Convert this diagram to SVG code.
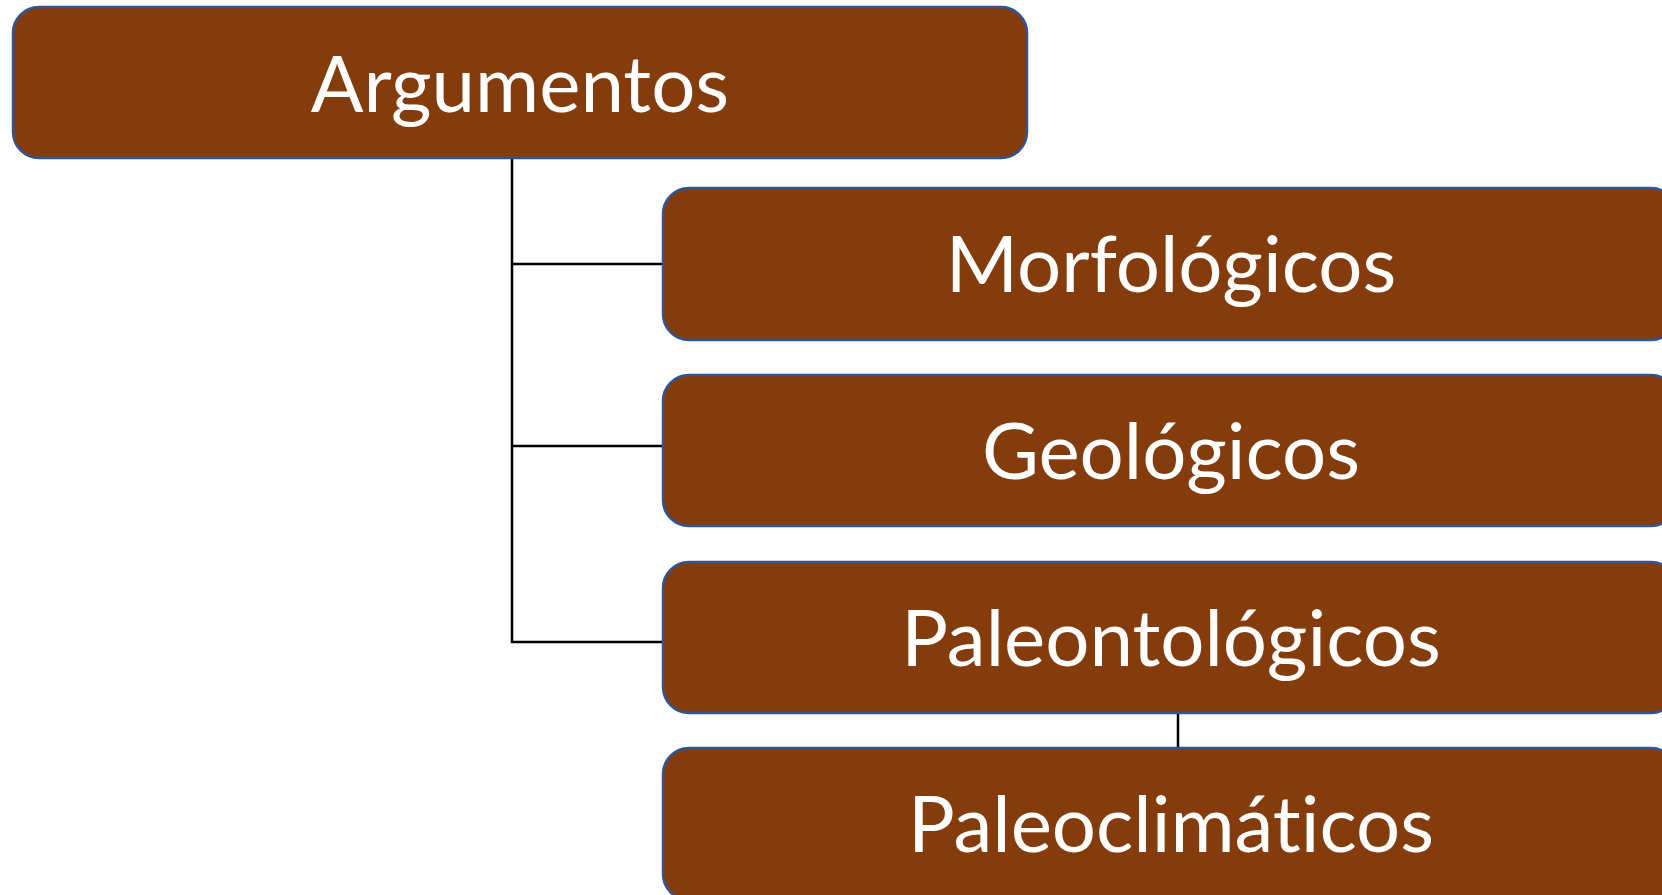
<svg xmlns="http://www.w3.org/2000/svg" width="1662" height="895" viewBox="0 0 1662 895">
<style>
.box{fill:#843C0C;stroke:#2F5597;stroke-width:2.5}
.lbl{fill:#FFFFFF;font-family:Lato,"Open Sans",sans-serif;font-size:78px;text-anchor:middle;font-variant-ligatures:none;font-feature-settings:"liga" 0,"dlig" 0}
.conn{stroke:#000000;stroke-width:2.5;fill:none}
</style>
<rect width="1662" height="895" fill="#FFFFFF"/>
<g id="connectors">
<polyline class="conn" points="512,158 512,642 663,642"/>
<line class="conn" x1="512" y1="264" x2="663" y2="264"/>
<line class="conn" x1="512" y1="446" x2="663" y2="446"/>
<line class="conn" x1="1178" y1="713" x2="1178" y2="748"/>
</g>
<g id="argumentos">
<rect class="box" x="13" y="7" width="1014" height="151" rx="26"/>
<text class="lbl" x="520" y="112">Argumentos</text>
</g>
<g id="morfologicos">
<rect class="box" x="663" y="188" width="1014" height="152" rx="26"/>
<text class="lbl" x="1171" y="292">Morfológicos</text>
</g>
<g id="geologicos">
<rect class="box" x="663" y="375" width="1014" height="151" rx="26"/>
<text class="lbl" x="1171" y="479">Geológicos</text>
</g>
<g id="paleontologicos">
<rect class="box" x="663" y="562" width="1014" height="151" rx="26"/>
<text class="lbl" x="1171" y="666">Paleontológicos</text>
</g>
<g id="paleoclimaticos">
<rect class="box" x="663" y="748" width="1014" height="152" rx="26"/>
<text class="lbl" x="1171" y="852">Paleoclimáticos</text>
</g>
</svg>
